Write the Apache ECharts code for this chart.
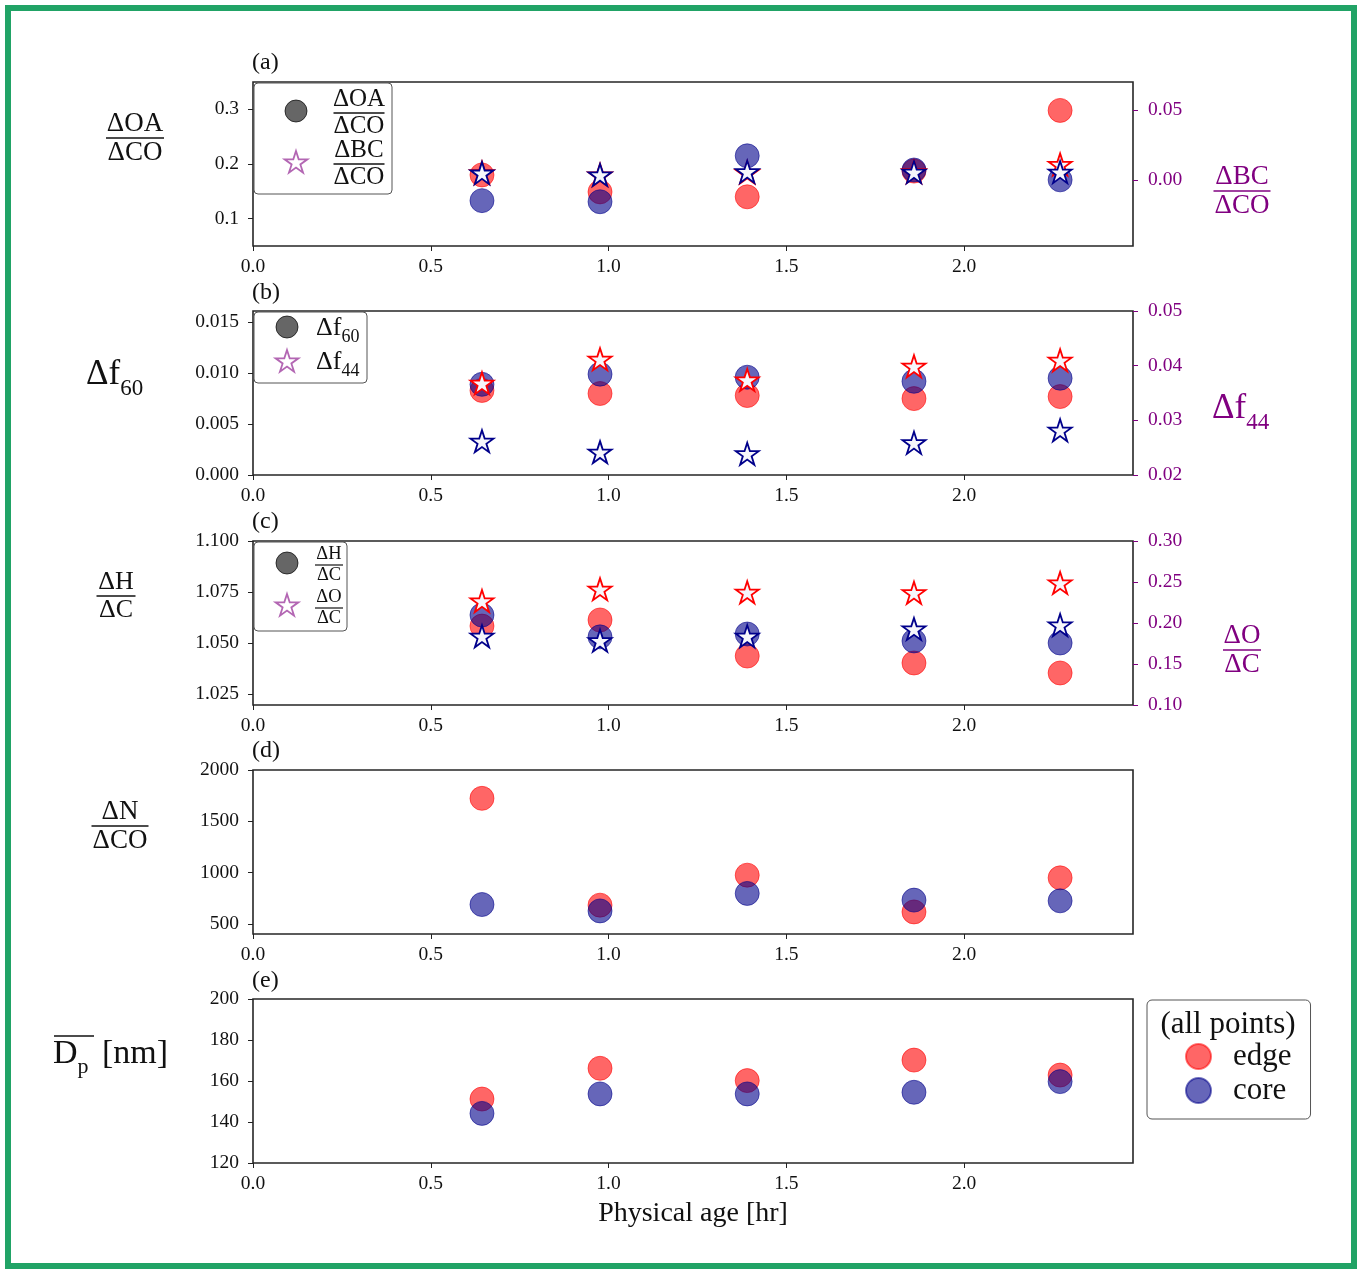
<!DOCTYPE html>
<html>
<head>
<meta charset="utf-8">
<script src="https://cdn.jsdelivr.net/npm/echarts@6/dist/echarts.min.js"></script>
<style>
html,body{margin:0;padding:0;background:#fff;}
#chart{width:1362px;height:1272px;}
</style>
</head>
<body>
<div id="chart"></div>
<script>
// ---------------- data ----------------
const ages = [0.644, 0.976, 1.39, 1.859, 2.27];           // Physical age [hr]
const xTicks = [0, 0.5, 1.0, 1.5, 2.0];

// (a) ΔOA/ΔCO (left) and ΔBC/ΔCO (right)
const oaEdge = [0.180, 0.149, 0.140, 0.187, 0.298];
const oaCore = [0.133, 0.131, 0.215, 0.189, 0.171];
const bcEdge = [0.0045, 0.0030, 0.0048, 0.0052, 0.0105];
const bcCore = [0.0043, 0.0030, 0.0052, 0.0050, 0.0050];
const aLeftTicks = [0.1, 0.2, 0.3];
const aRightTicks = [0.00, 0.05];

// (b) Δf60 (left) and Δf44 (right)
const f60Edge = [0.0083, 0.0080, 0.0078, 0.0075, 0.0077];
const f60Core = [0.0089, 0.0099, 0.0096, 0.0092, 0.0095];
const f44Edge = [0.0366, 0.0410, 0.0372, 0.0397, 0.0408];
const f44Core = [0.0260, 0.0240, 0.0237, 0.0257, 0.0280];
const bLeftTicks = [0.000, 0.005, 0.010, 0.015];

// (c) ΔH/ΔC (left) and ΔO/ΔC (right)
const hcEdge = [1.0583, 1.0613, 1.0436, 1.0402, 1.0353];
const hcCore = [1.0637, 1.0530, 1.0544, 1.0510, 1.0500];
const ocEdge = [0.2256, 0.2400, 0.2362, 0.2356, 0.2476];
const ocCore = [0.1826, 0.1772, 0.1826, 0.1915, 0.1963];
const cLeftTicks = [1.025, 1.050, 1.075, 1.100];

// (d) ΔN/ΔCO
const nEdge = [1724, 684, 976, 618, 950];
const nCore = [690, 628, 798, 733, 726];
const dTicks = [500, 1000, 1500, 2000];

// (e) mean Dp [nm]
const dpEdge = [151.2, 166.2, 160.2, 170.2, 162.9];
const dpCore = [144.2, 153.7, 153.7, 154.5, 159.7];

// ---------------- style ----------------
const FONT = '"Liberation Serif", "DejaVu Serif", serif';
const PURPLE = '#800080';
const TICKF = 19.5;
const RED_FILL = 'rgba(255,0,0,0.6)';
const BLUE_FILL = 'rgba(0,0,139,0.6)';
const STAR = 'path://M0,-50 L11.23,-15.45 L47.55,-15.45 L18.16,5.9 L29.39,40.45 L0,19.1 L-29.39,40.45 L-18.16,5.9 L-47.55,-15.45 L-11.23,-15.45 Z';

const GL = 253, GW = 880, GH = 164;
const tops = [82, 311, 541, 770, 999];

const grids = tops.map(t => ({
  left: GL, top: t, width: GW, height: GH,
  show: true, borderColor: '#262626', borderWidth: 1.6, backgroundColor: 'transparent'
}));

const xAxes = tops.map((t, i) => ({
  type: 'value', gridIndex: i, min: 0, max: 2.475,
  axisLine: { show: false, onZero: false },
  splitLine: { show: false },
  axisTick: { show: true, length: 5, lineStyle: { color: '#222', width: 1 }, customValues: xTicks },
  axisLabel: { fontFamily: FONT, fontSize: TICKF, color: '#111', margin: 11,
    customValues: xTicks, formatter: v => v.toFixed(1) },
  name: i === 4 ? 'Physical age [hr]' : '',
  nameLocation: 'middle', nameGap: 37,
  nameTextStyle: { fontFamily: FONT, fontSize: 28, color: '#111' }
}));

function yAx(grid, min, max, ticks, fmt, right, extra) {
  const col = right ? PURPLE : '#111';
  return Object.assign({
    type: 'value', gridIndex: grid, min: min, max: max,
    position: right ? 'right' : 'left',
    axisLine: { show: false, onZero: false },
    splitLine: { show: false },
    axisTick: { show: true, length: 5, lineStyle: { color: right ? PURPLE : '#222', width: 1 }, customValues: ticks },
    axisLabel: { fontFamily: FONT, fontSize: TICKF, color: col, margin: right ? 15 : 14,
      customValues: ticks, formatter: fmt }
  }, extra || {});
}

const yAxes = [
  yAx(0, 0.05, 0.35, aLeftTicks, v => v.toFixed(1), false),
  yAx(0, -0.047, 0.07, aRightTicks, v => v.toFixed(2), true),
  yAx(1, 0, 0.0161, bLeftTicks, v => v.toFixed(3), false),
  yAx(1, 0.02, 0.05, null, v => v.toFixed(2), true, {
    interval: 0.01,
    axisTick: { show: true, length: 5, lineStyle: { color: PURPLE, width: 1 } },
    axisLabel: { fontFamily: FONT, fontSize: TICKF, color: PURPLE, margin: 15, formatter: v => v.toFixed(2) } }),
  yAx(2, 1.0196, 1.1, cLeftTicks, v => v.toFixed(3), false),
  yAx(2, 0.10, 0.30, null, v => v.toFixed(2), true, {
    interval: 0.05,
    axisTick: { show: true, length: 5, lineStyle: { color: PURPLE, width: 1 } },
    axisLabel: { fontFamily: FONT, fontSize: TICKF, color: PURPLE, margin: 15, formatter: v => v.toFixed(2) } }),
  yAx(3, 403, 2000, dTicks, v => String(v), false),
  yAx(4, 120, 200, null, v => String(v), false, {
    interval: 20,
    axisTick: { show: true, length: 5, lineStyle: { color: '#222', width: 1 } },
    axisLabel: { fontFamily: FONT, fontSize: TICKF, color: '#111', margin: 14 } })
];

function pts(arr) { return ages.map((x, i) => [x, arr[i]]); }

function circ(name, arr, xi, yi, edge) {
  return {
    type: 'scatter', name: name, xAxisIndex: xi, yAxisIndex: yi,
    data: pts(arr), symbol: 'circle', symbolSize: 24,
    itemStyle: { color: edge ? RED_FILL : BLUE_FILL,
      borderColor: edge ? 'rgba(255,0,0,0.55)' : 'rgba(0,0,139,0.55)', borderWidth: 1, opacity: 1 },
    emphasis: { disabled: true }, silent: true
  };
}
function star(name, arr, xi, yi, edge) {
  return {
    type: 'scatter', name: name, xAxisIndex: xi, yAxisIndex: yi,
    data: pts(arr), symbol: STAR, symbolSize: [23, 22], symbolOffset: [0, -1],
    itemStyle: { color: '#f6f6fb', borderColor: edge ? '#ff0000' : '#00008b', borderWidth: 1.8, opacity: 1 },
    emphasis: { disabled: true }, silent: true
  };
}

const series = [
  circ('edge', oaEdge, 0, 0, true), circ('core', oaCore, 0, 0, false),
  star('edgeStar', bcEdge, 0, 1, true), star('coreStar', bcCore, 0, 1, false),
  circ('edge', f60Edge, 1, 2, true), circ('core', f60Core, 1, 2, false),
  star('edgeStar', f44Edge, 1, 3, true), star('coreStar', f44Core, 1, 3, false),
  circ('edge', hcEdge, 2, 4, true), circ('core', hcCore, 2, 4, false),
  star('edgeStar', ocEdge, 2, 5, true), star('coreStar', ocCore, 2, 5, false),
  circ('edge', nEdge, 3, 6, true), circ('core', nCore, 3, 6, false),
  circ('edge', dpEdge, 4, 7, true), circ('core', dpCore, 4, 7, false)
];

// ---------------- graphic helpers (labels / legends) ----------------
function txt(x, y, s, size, color, align, valign, extra) {
  return { type: 'text', x: x, y: y, z: 50,
    style: Object.assign({ text: s, font: size + 'px ' + FONT, fill: color || '#111',
      align: align || 'left', verticalAlign: valign || 'middle' }, extra || {}) };
}
function frac(cx, cy, num, den, size, w, color) {
  const c = color || '#111';
  return [
    txt(cx, cy - 1, num, size, c, 'center', 'bottom'),
    { type: 'line', z: 50, shape: { x1: cx - w / 2, y1: cy, x2: cx + w / 2, y2: cy },
      style: { stroke: c, lineWidth: Math.max(1.2, size / 18) } },
    txt(cx, cy + 1, den, size, c, 'center', 'top')
  ];
}
function subText(x, y, main, sub, size, subSize, color) {
  return { type: 'text', x: x, y: y, z: 50,
    style: { text: '{m|' + main + '}{s|' + sub + '}', fill: color || '#111',
      align: 'left', verticalAlign: 'middle',
      rich: {
        m: { fontFamily: FONT, fontSize: size, fill: color || '#111', lineHeight: size * 1.2, verticalAlign: 'middle' },
        s: { fontFamily: FONT, fontSize: subSize, fill: color || '#111', lineHeight: size * 1.2 + subSize * 0.35, verticalAlign: 'bottom' }
      } } };
}
function starPts(cx, cy, R) {
  const p = [];
  for (let k = 0; k < 10; k++) {
    const r = k % 2 === 0 ? R : R * 0.382;
    const a = (-90 + 36 * k) * Math.PI / 180;
    p.push([cx + r * Math.cos(a), cy + r * Math.sin(a)]);
  }
  return p;
}
function legBox(x, y, w, h) {
  return { type: 'rect', z: 40, shape: { x: x, y: y, width: w, height: h, r: 4 },
    style: { fill: '#fff', stroke: '#555', lineWidth: 1 } };
}
function legCircle(cx, cy) {
  return { type: 'circle', z: 45, shape: { cx: cx, cy: cy, r: 11 },
    style: { fill: 'rgba(0,0,0,0.6)', stroke: 'rgba(0,0,0,0.7)', lineWidth: 1 } };
}
function legStar(cx, cy) {
  return { type: 'polygon', z: 45, shape: { points: starPts(cx, cy + 1, 12) },
    style: { fill: '#fff', stroke: 'rgba(128,0,128,0.6)', lineWidth: 1.8 } };
}

const graphics = [].concat(
  // outer green frame
  [{ type: 'rect', z: 100, shape: { x: 8, y: 8, width: 1346, height: 1258 },
     style: { fill: 'none', stroke: '#21a366', lineWidth: 6 } }],
  // panel letters
  ['(a)', '(b)', '(c)', '(d)', '(e)'].map((s, i) => txt(252, [63, 293, 522, 751, 981][i], s, 24, '#111', 'left', 'middle')),
  // left axis titles
  frac(135, 138, 'ΔOA', 'ΔCO', 27, 58),
  [subText(86, 375, 'Δf', '60', 35, 23)],
  frac(116, 596, 'ΔH', 'ΔC', 26, 39),
  frac(120, 826, 'ΔN', 'ΔCO', 27, 57),
  [subText(53, 1054, 'D', 'p', 34, 22),
   txt(102, 1054, '[nm]', 34, '#111', 'left', 'middle'),
   { type: 'line', z: 50, shape: { x1: 54, y1: 1036, x2: 94, y2: 1036 }, style: { stroke: '#111', lineWidth: 1.5 } }],
  // right axis titles
  frac(1242, 191, 'ΔBC', 'ΔCO', 27, 57, PURPLE),
  [subText(1212, 409, 'Δf', '44', 35, 23, PURPLE)],
  frac(1242, 650, 'ΔO', 'ΔC', 27, 38, PURPLE),
  // legend (a)
  [legBox(254, 83, 138, 111), legCircle(296, 111), legStar(296, 162)],
  frac(359, 113, 'ΔOA', 'ΔCO', 25, 51),
  frac(359, 164, 'ΔBC', 'ΔCO', 25, 51),
  // legend (b)
  [legBox(254, 312, 113, 71), legCircle(287, 327), legStar(287, 361),
   subText(316, 328, 'Δf', '60', 26, 18), subText(316, 362, 'Δf', '44', 26, 18)],
  // legend (c)
  [legBox(254, 542, 93, 89), legCircle(287, 563), legStar(287, 605)],
  frac(329, 565, 'ΔH', 'ΔC', 18.5, 28),
  frac(329, 608, 'ΔO', 'ΔC', 18.5, 28),
  // "(all points)" legend header
  [txt(1228, 1025, '(all points)', 31, '#111', 'center', 'middle')]
);

const chart = echarts.init(document.getElementById('chart'), null, { renderer: 'canvas' });
chart.setOption({
  animation: false,
  backgroundColor: '#fff',
  grid: grids,
  xAxis: xAxes,
  yAxis: yAxes,
  legend: {
    data: ['edge', 'core'], orient: 'vertical', left: 1147, top: 1000,
    icon: 'circle', itemWidth: 25, itemHeight: 25, itemGap: 3,
    padding: [41, 19, 13, 38],
    backgroundColor: '#fff', borderColor: '#555', borderWidth: 1, borderRadius: 5,
    selectedMode: false,
    textStyle: { fontFamily: FONT, fontSize: 31, color: '#111', padding: [0, 0, 0, 17] }
  },
  graphic: graphics,
  series: series
});
</script>
</body>
</html>
